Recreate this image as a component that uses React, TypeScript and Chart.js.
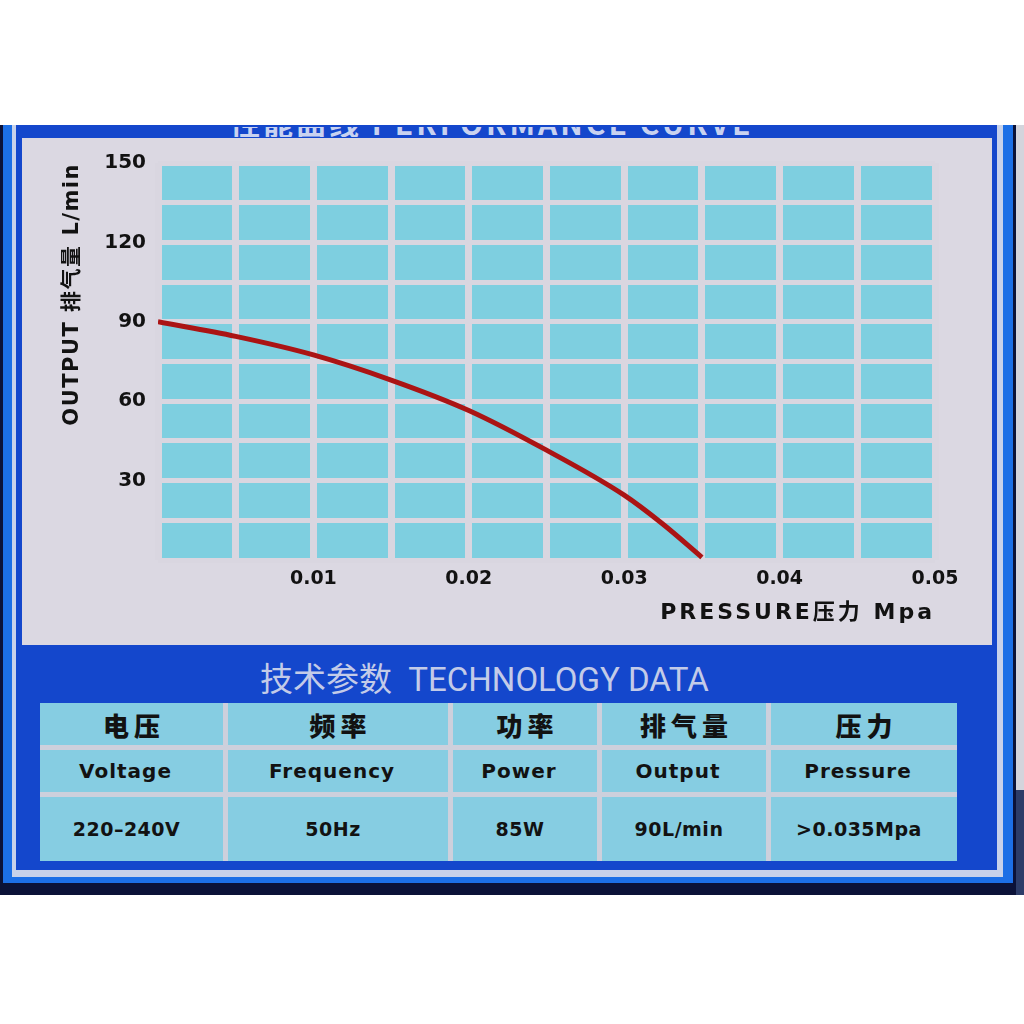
import React, { useEffect, useRef } from "react";
import { Chart, registerables } from "chart.js";

Chart.register(...registerables);

// ---- data ----
const pressureMpa = [0, 0.005, 0.01, 0.015, 0.02, 0.025, 0.03, 0.0325, 0.035];
const outputLpm = [90, 84.5, 77.5, 68, 56.5, 41.5, 24.5, 13.5, 1];
const xTickLabels = ["0.01", "0.02", "0.03", "0.04", "0.05"];
const yTickLabels = [30, 60, 90, 120, 150];
const tableHeadersZh = ["电压", "频率", "功率", "排气量", "压力"];
const tableHeadersEn = ["Voltage", "Frequency", "Power", "Output", "Pressure"];
const tableValues = ["220–240V", "50Hz", "85W", "90L/min", ">0.035Mpa"];

// ---- styles ----
const CYAN = "#7ecfe0";
const GRID = "#d9d6e0";
const PANEL = "#dbd8e2";
const RED = "#ab1414";
const INK = "#121212";
const FONT = '"DejaVu Sans", "Noto Sans CJK SC", sans-serif';

export default function App() {
  const ref = useRef<HTMLCanvasElement>(null);

  useEffect(() => {
    document.body.style.margin = "0";
    const cyanArea = {
      id: "cyanArea",
      beforeDraw(chart: any) {
        const { ctx, chartArea: a } = chart;
        ctx.save();
        ctx.fillStyle = CYAN;
        ctx.fillRect(a.left, a.top, a.right - a.left, a.bottom - a.top);
        ctx.restore();
      },
    };
    const spacedTitles = {
      id: "spacedTitles",
      beforeDraw(chart: any) {
        Object.values(chart.scales).forEach((s: any) => {
          if (s.__patched) return;
          const orig = s.drawTitle.bind(s);
          s.drawTitle = () => {
            s.ctx.save();
            s.ctx.letterSpacing = s.axis === "x" ? "3px" : "1.5px";
            orig();
            s.ctx.restore();
          };
          s.__patched = true;
        });
      },
    };
    const zeroPad = (s: any) => {
      s.paddingLeft = 0;
      s.paddingRight = 0;
      s.paddingTop = 0;
      s.paddingBottom = 0;
    };

    const chart = new Chart(ref.current as HTMLCanvasElement, {
      type: "line",
      data: {
        datasets: [
          {
            data: pressureMpa.map((x, i) => ({ x, y: outputLpm[i] })),
            borderColor: RED,
            borderWidth: 5,
            pointRadius: 0,
            tension: 0.4,
            cubicInterpolationMode: "monotone",
            fill: false,
          },
        ],
      },
      options: {
        animation: false,
        responsive: false,
        layout: { padding: { left: 0, top: 25, right: 57, bottom: 0 } },
        plugins: { legend: { display: false }, tooltip: { enabled: false } },
        scales: {
          x: {
            type: "linear",
            min: 0,
            max: 0.05,
            ticks: {
              stepSize: 0.005,
              autoSkip: false,
              maxRotation: 0,
              padding: 8,
              color: INK,
              font: { family: FONT, size: 19, weight: "bold" },
              callback: (v: any) => {
                const m = Math.round(Number(v) * 1000);
                const s = (m / 1000).toFixed(2);
                return m % 10 === 0 && xTickLabels.includes(s) ? s : "";
              },
            },
            grid: { color: GRID, lineWidth: 7, drawTicks: false },
            border: { display: false },
            title: {
              display: true,
              text: "PRESSURE压力 Mpa",
              align: "end",
              color: INK,
              font: { family: FONT, size: 22, weight: "bold" },
              padding: { top: 0, bottom: 19 },
            },
            afterFit: (s: any) => {
              s.height = 85;
              zeroPad(s);
            },
          },
          y: {
            min: 0,
            max: 150,
            ticks: {
              stepSize: 15,
              padding: 12,
              color: INK,
              font: { family: FONT, size: 20, weight: "bold" },
              callback: (v: any) => {
                const n = Math.round(Number(v));
                return yTickLabels.includes(n) ? String(n) : "";
              },
            },
            grid: { color: GRID, lineWidth: 5, drawTicks: false },
            border: { display: false },
            title: {
              display: true,
              text: "OUTPUT 排气量 L/min",
              align: "end",
              color: INK,
              font: { family: FONT, size: 21, weight: "bold" },
              padding: { top: 38, bottom: 0 },
            },
            afterFit: (s: any) => {
              s.width = 136;
              zeroPad(s);
            },
          },
        },
      } as any,
      plugins: [cyanArea, spacedTitles],
    });
    return () => chart.destroy();
  }, []);

  const abs = (l: number, t: number, w: number, h: number, bg: string): React.CSSProperties => ({
    position: "absolute",
    left: l,
    top: t,
    width: w,
    height: h,
    background: bg,
  });

  const cell: React.CSSProperties = {
    background: "#86cde2",
    display: "flex",
    alignItems: "center",
    justifyContent: "center",
    color: INK,
    whiteSpace: "nowrap",
  };

  return (
    <div style={{ position: "relative", width: 1024, height: 1024, background: "#ffffff", overflow: "hidden" }}>
      <div style={abs(0, 125, 1016, 770, "#0b1238")} />
      <div style={abs(1016, 125, 8, 665, "#d4d4dc")} />
      <div style={abs(1016, 790, 8, 105, "#2c3c68")} />
      <div style={abs(3, 125, 1010, 758, "#1c6fe6")} />
      <div style={abs(12, 125, 991, 752, "#c8d2ea")} />
      <div style={abs(16, 125, 981, 745, "#1447cc")} />
      {/* clipped header title */}
      <div style={{ ...abs(16, 127, 981, 10, "transparent"), overflow: "hidden" }}>
        <div
          style={{
            position: "absolute",
            left: 214,
            top: -20,
            fontFamily: '"Noto Sans CJK SC", sans-serif',
            fontWeight: 700,
            fontSize: 30,
            lineHeight: "30px",
            letterSpacing: 3,
            color: "#c9d2f0",
            whiteSpace: "nowrap",
          }}
        >
          性能曲线 PERFORMANCE CURVE
        </div>
      </div>
      <div style={abs(22, 138, 970, 507, PANEL)}>
        <canvas ref={ref} width={970} height={507} style={{ display: "block", width: 970, height: 507 }} />
      </div>
      {/* technology data title */}
      <div
        style={{
          position: "absolute",
          left: 260,
          top: 660,
          fontFamily: 'Roboto, "Noto Sans CJK SC", sans-serif',
          fontSize: 33,
          lineHeight: "40px",
          color: "#c3cbe8",
          whiteSpace: "nowrap",
        }}
      >
        技术参数&nbsp;&nbsp;TECHNOLOGY DATA
      </div>
      {/* table */}
      <div
        style={{
          position: "absolute",
          left: 40,
          top: 703,
          width: 917,
          height: 158,
          display: "grid",
          gridTemplateColumns: "183px 220px 144px 164px 186px",
          gridTemplateRows: "42px 42px 64px",
          gap: 5,
          background: "#cdd0dc",
        }}
      >
        {tableHeadersZh.map((t) => (
          <div
            key={"zh" + t}
            style={{
              ...cell,
              fontFamily: '"Noto Sans CJK SC", sans-serif',
              fontWeight: 900,
              fontSize: 26,
              letterSpacing: 5,
              paddingLeft: 5,
            }}
          >
            {t}
          </div>
        ))}
        {tableHeadersEn.map((t) => (
          <div
            key={"en" + t}
            style={{ ...cell, fontFamily: FONT, fontWeight: 700, fontSize: 20, letterSpacing: 1, paddingRight: 12 }}
          >
            {t}
          </div>
        ))}
        {tableValues.map((t) => (
          <div
            key={"v" + t}
            style={{ ...cell, fontFamily: FONT, fontWeight: 700, fontSize: 19, letterSpacing: 0.5, paddingRight: 10 }}
          >
            {t}
          </div>
        ))}
      </div>
    </div>
  );
}
